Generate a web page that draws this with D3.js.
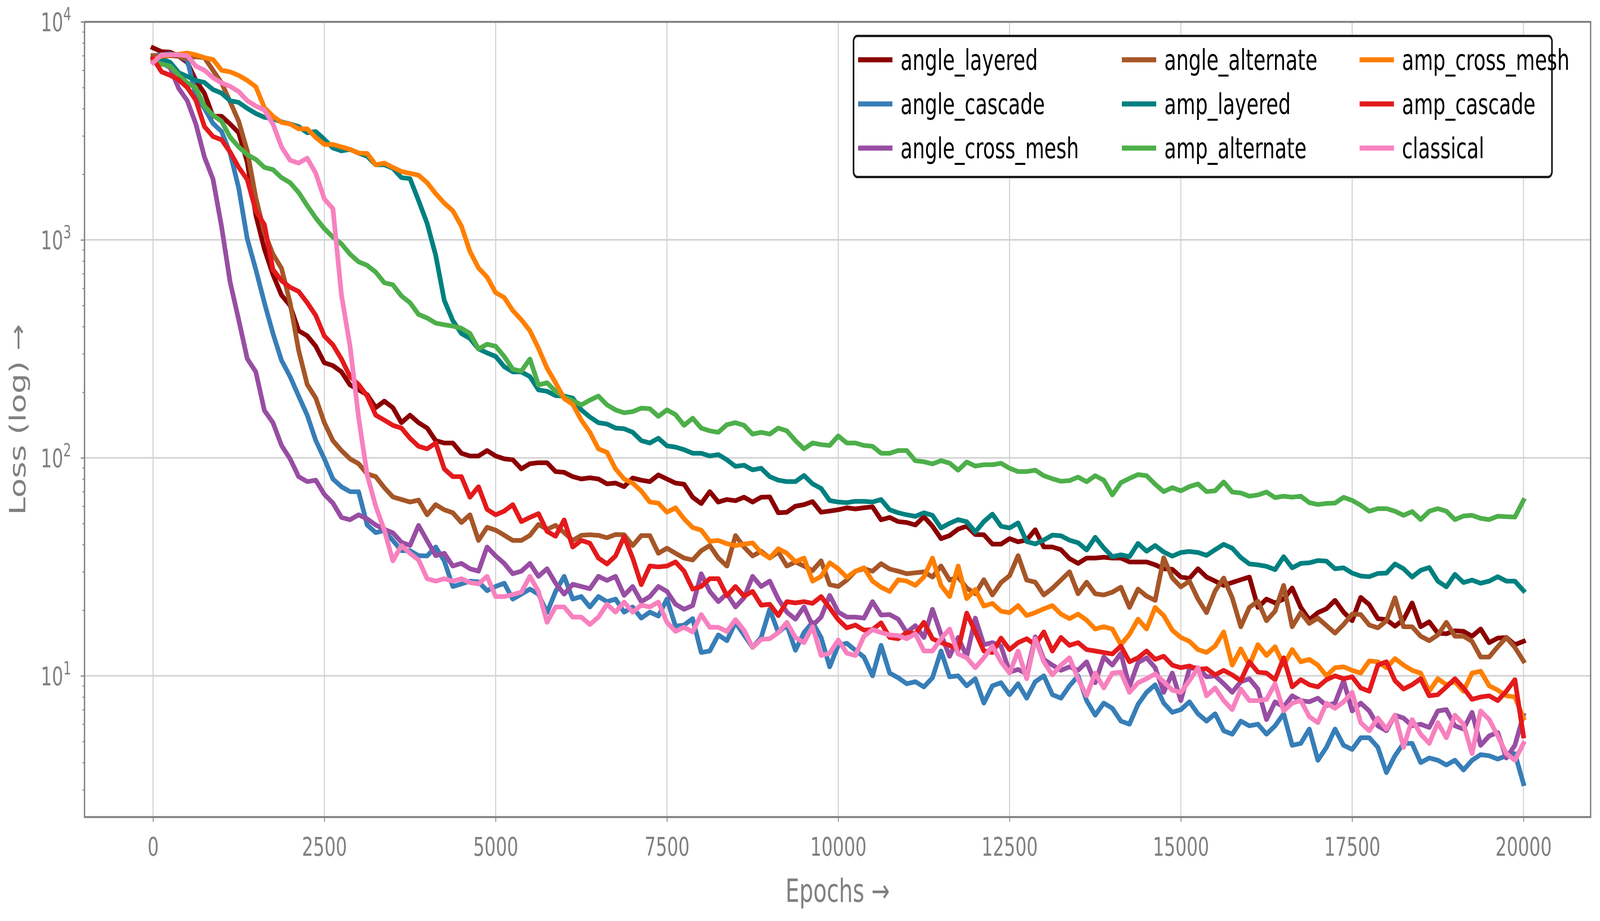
<!DOCTYPE html>
<html lang="en">
<head>
<meta charset="UTF-8">
<title>Loss curves</title>
<style>
    html, body { margin: 0; padding: 0; background: #fff; overflow: hidden; }
    svg { display: block; width: 100vw; height: 100vh; font-family: "DejaVu Sans", sans-serif; }
</style>
</head>
<body>
<div id="chart"></div>
<script src="https://d3js.org/d3.v7.min.js"></script>
<script>
const epochs = [0, 125, 250, 375, 500, 625, 750, 875, 1000, 1125, 1250, 1375, 1500, 1625, 1750, 1875,
    2000, 2125, 2250, 2375, 2500, 2625, 2750, 2875, 3000, 3125, 3250, 3375, 3500, 3625, 3750, 3875,
    4000, 4125, 4250, 4375, 4500, 4625, 4750, 4875, 5000, 5125, 5250, 5375, 5500, 5625, 5750, 5875,
    6000, 6125, 6250, 6375, 6500, 6625, 6750, 6875, 7000, 7125, 7250, 7375, 7500, 7625, 7750, 7875,
    8000, 8125, 8250, 8375, 8500, 8625, 8750, 8875, 9000, 9125, 9250, 9375, 9500, 9625, 9750, 9875,
    10000, 10125, 10250, 10375, 10500, 10625, 10750, 10875, 11000, 11125, 11250, 11375, 11500, 11625, 11750, 11875,
    12000, 12125, 12250, 12375, 12500, 12625, 12750, 12875, 13000, 13125, 13250, 13375, 13500, 13625, 13750, 13875,
    14000, 14125, 14250, 14375, 14500, 14625, 14750, 14875, 15000, 15125, 15250, 15375, 15500, 15625, 15750, 15875,
    16000, 16125, 16250, 16375, 16500, 16625, 16750, 16875, 17000, 17125, 17250, 17375, 17500, 17625, 17750, 17875,
    18000, 18125, 18250, 18375, 18500, 18625, 18750, 18875, 19000, 19125, 19250, 19375, 19500, 19625, 19750, 19875,
    20000];

const angleLayered = [7600, 7300, 7260, 6950, 6520, 5390, 4700, 3690, 3690, 3400, 3100, 2270, 1300, 908, 693, 558,
    500, 383, 363, 325, 273, 265, 248, 216, 205, 195, 170, 182, 170, 145, 157, 145,
    137, 120, 117, 117, 105, 102, 102, 108, 102, 99, 98, 89, 94, 95, 95, 86.5,
    85.8, 82, 80, 81, 80, 76, 76.6, 73.8, 80.8, 79, 77.8, 83.5, 80, 76.6, 75.7, 66,
    61.7, 70, 62.7, 64.4, 63.6, 66, 62.7, 66, 66.2, 56, 56.3, 60, 61, 63, 56.3, 57,
    57.8, 59, 58.3, 59, 59.6, 52, 53.3, 51, 50.5, 49.2, 53.7, 48.6, 42.6, 44, 47.1, 48.6,
    44.5, 44.4, 40.2, 40.2, 42.6, 41.2, 42, 46.8, 39, 39, 37.9, 34.5, 32.8, 34.7, 34.7, 35,
    34.7, 34.7, 33.3, 33.3, 33.3, 32.3, 31, 30.8, 28.4, 28, 31, 28.4, 27.2, 26, 26.8, 27.6,
    28.4, 20.6, 22.5, 21.6, 22.5, 25.3, 20.6, 18.1, 19.5, 20.3, 22.2, 19.6, 17.9, 22.9, 21.2, 18.3,
    18.1, 16.9, 18.1, 21.6, 16.8, 17.7, 15.7, 15.6, 16.1, 16, 15.2, 16.4, 14.2, 14.9, 15, 13.9,
    14.4];

const angleCascade = [7000, 7060, 7140, 6950, 6690, 4590, 4010, 3420, 3140, 2500, 1730, 1011, 731, 515, 372, 280,
    236, 192, 157, 120, 99, 80, 73.7, 70, 69.9, 49.2, 45.4, 46.4, 41.8, 37.5, 37.5, 35.6,
    35.5, 39, 33.7, 25.7, 26.4, 27.2, 27, 24.6, 25.7, 26.6, 22.5, 23.7, 25, 23.7, 19.5, 24.4,
    28.6, 22.5, 23.1, 20.7, 23.1, 21.9, 22.5, 19.6, 20.7, 18.4, 19.6, 18.8, 22.5, 16.9, 17.1, 18.3,
    12.8, 13, 15.4, 14.5, 17.6, 15.4, 13.5, 15, 20.2, 15.8, 17.1, 13.1, 15.8, 17.6, 15, 11,
    13.8, 14.1, 13.1, 12.2, 10, 13.8, 10.3, 9.8, 9.2, 9.4, 8.9, 9.8, 13, 9.9, 10, 9,
    9.7, 7.5, 9, 9.3, 8.2, 9.2, 7.9, 9.4, 10, 8.2, 7.9, 9, 10, 7.7, 6.6, 7.5,
    7.1, 6.2, 6, 7.4, 8.4, 9.1, 7.5, 6.8, 7, 7.6, 6.7, 6.2, 6.7, 5.6, 5.4, 6.2,
    5.9, 6, 5.4, 5.9, 6.7, 4.8, 4.9, 5.7, 4.1, 4.7, 5.7, 4.8, 4.6, 5.2, 5.2, 4.7,
    3.6, 4.3, 4.9, 4.9, 4, 4.2, 4.1, 3.9, 4.1, 3.7, 4.1, 4.35, 4.3, 4.15, 4.3, 4.4,
    3.2];

const angleCrossMesh = [6760, 6500, 6160, 4950, 4350, 3400, 2400, 1900, 1150, 640, 430, 285, 248, 165, 145, 114,
    99, 82, 77.8, 79, 68, 62, 53.3, 52, 54.8, 52.5, 49.2, 47, 45.3, 41, 39.6, 49,
    41.7, 35.6, 36.5, 31.9, 32.8, 31, 30.2, 39, 35.5, 32.8, 29.4, 30.2, 32.8, 28.6, 31, 26.6,
    23.7, 26.3, 25.7, 25.1, 28.6, 27.4, 28.6, 23.4, 25.7, 21.9, 23.1, 25.7, 24.4, 21.3, 20.2, 21,
    29.4, 24.4, 21.9, 23.8, 20.7, 22.8, 28.6, 25.7, 27.2, 22.5, 19.6, 18.2, 20.7, 17, 18.6, 23.4,
    19.6, 18.6, 18.6, 18.4, 21.9, 19, 19.1, 18.2, 15.8, 17, 15, 20.2, 15.5, 12.3, 15, 12.3,
    18.4, 13.9, 14.2, 13.7, 10.4, 10.7, 10.2, 15.1, 11.9, 11.2, 10.6, 11, 10.6, 11.6, 9.3, 12.2,
    11.2, 12.7, 8.9, 11.5, 12.1, 10.9, 8.4, 10.3, 7.7, 10.8, 10.9, 9.9, 10, 9.2, 8.4, 9.4,
    9.7, 8.7, 6.3, 7.6, 7.2, 8.1, 7.7, 7.6, 7.9, 7.3, 7.5, 9.5, 6.9, 7.5, 6.9, 5.9,
    5.6, 6.6, 6.4, 5.9, 6, 5.8, 6.9, 7, 5.9, 5.7, 6.8, 4.8, 5.3, 5.5, 4.2, 4.8,
    6.6];

const angleAlternate = [7000, 6950, 7000, 6950, 6800, 6920, 6850, 6000, 5250, 4300, 3500, 2560, 1560, 1080, 860, 740,
    515, 311, 217, 188, 145, 120, 108, 99, 94, 84.4, 82, 73, 66.2, 64.4, 62.7, 64,
    54.8, 61, 57.8, 56, 50.5, 54.8, 41.8, 48, 46.6, 44.2, 41.8, 41.8, 44.1, 49.5, 47, 49,
    45.4, 41.8, 44.1, 44.4, 44.1, 43, 44.5, 44.4, 39.6, 44, 44, 36.5, 38.5, 36.5, 34.7, 34,
    37.5, 39.6, 34.7, 31.9, 44, 39, 35.5, 37.3, 34.7, 37, 31.9, 33.3, 31.9, 30.4, 33.7, 26.2,
    25.7, 27.5, 30.2, 31, 30.2, 32.7, 30.9, 30.2, 29.4, 29.7, 30, 28.4, 31.9, 27.5, 28.4, 25.3,
    23.8, 27.6, 23.5, 26.8, 28.8, 35.6, 27.5, 26.9, 23.5, 25.2, 27.5, 30, 23.8, 26.9, 23.8, 23.5,
    24.2, 25.5, 20.6, 25, 23.2, 22.2, 34.8, 28.1, 25.6, 27.2, 22.5, 19.5, 24.5, 28.1, 22.8, 16.8,
    20.6, 22, 17.9, 19.8, 26, 16.8, 19.5, 17.4, 18.4, 17, 15.7, 17.2, 19.2, 19.1, 17.1, 16.6,
    17.9, 22.8, 16.8, 16.8, 15.2, 14.5, 15.4, 17.6, 15.2, 15.2, 14.4, 12.2, 12.2, 13.6, 15, 13.5,
    11.7];

const ampLayered = [6800, 6760, 6520, 5850, 5620, 5390, 5270, 4890, 4710, 4350, 4270, 4010, 3800, 3650, 3590, 3480,
    3400, 3310, 3100, 3140, 2890, 2640, 2560, 2600, 2500, 2420, 2210, 2210, 2130, 1930, 1910, 1515,
    1190, 850, 528, 426, 372, 353, 316, 303, 292, 262, 248, 248, 236, 205, 202, 193,
    192, 188, 166, 154, 145, 143, 137, 136, 131, 120, 117, 123, 113.5, 112, 109, 105,
    105, 102, 103.5, 98, 91.4, 92.5, 88.1, 89.6, 82, 79, 77.8, 77.8, 83, 76, 72.4, 63.7,
    62.7, 62.3, 63.2, 63.2, 62.7, 64.4, 57.8, 56, 54.8, 53.9, 56, 54.5, 47.7, 50.1, 52.1, 50.9,
    45.7, 51, 55.2, 48.6, 47.7, 50.3, 41.3, 40.3, 42, 44.2, 43.9, 41.9, 40.8, 37.8, 43.2, 38.6,
    35.2, 35.9, 35.2, 40.5, 37.3, 39.6, 37, 35.4, 36.8, 37.2, 36.8, 35.7, 37.9, 40.1, 38.5, 34.9,
    32.6, 32.3, 31.8, 30.7, 35.2, 31.3, 32.8, 33, 33.8, 33.6, 31, 31.3, 29.6, 28.7, 28.5, 29.5,
    29.6, 32.6, 31, 28.4, 30.5, 31.4, 27.2, 25.6, 29.2, 26.8, 27.5, 26.6, 27.2, 28.5, 27.2, 27.2,
    24.6];

const ampAlternate = [6600, 6400, 6270, 5690, 5250, 4970, 4110, 3730, 3500, 2960, 2670, 2460, 2340, 2150, 2100, 1930,
    1830, 1650, 1436, 1260, 1126, 1030, 958, 860, 793, 764, 711, 636, 622, 553, 515, 455,
    438, 415, 408, 402, 393, 372, 316, 332, 325, 292, 255, 250, 284, 216, 221, 202,
    190, 183, 175, 184, 192, 175, 166, 161, 163, 169, 168, 155, 166, 158, 141, 152,
    137, 133, 131, 142, 145, 141, 128.5, 131, 128.5, 137, 133, 120, 110, 117, 115, 114,
    126, 117, 117, 114, 113, 105, 105, 108, 108, 97, 96, 93.8, 97.1, 94.6, 87.8, 95.7,
    91.7, 93, 93, 94.4, 89.6, 86.5, 86.5, 87.8, 82.8, 80.2, 78.1, 78.6, 81.6, 77.7, 82.8, 79,
    67.6, 77, 80.5, 83.8, 82.8, 75.7, 70, 73, 70.6, 73.8, 75.9, 70, 70.6, 77.5, 69.7, 69,
    66.7, 67.6, 69.7, 65.7, 66.7, 66, 66.7, 62.3, 61.1, 61.8, 62, 65.9, 63.8, 60.6, 56.9, 58.5,
    58.5, 56.9, 54.5, 56.7, 52.1, 56.9, 58.5, 56.9, 52.1, 54.1, 54.5, 52.8, 52.1, 54, 53.7, 53.5,
    63.8];

const ampCrossMesh = [6700, 6950, 7060, 7100, 7200, 7060, 6850, 6720, 6000, 5900, 5680, 5390, 5040, 4040, 3690, 3460,
    3400, 3230, 3230, 2950, 2740, 2740, 2670, 2600, 2500, 2490, 2210, 2250, 2150, 2060, 2020, 1980,
    1830, 1630, 1475, 1360, 1157, 885, 743, 675, 573, 544, 474, 430, 383, 318, 258, 221,
    187, 176, 149, 131, 110, 106, 89, 80, 76.6, 70.5, 62.7, 62, 56.3, 59, 52.5, 47.9,
    46.6, 41.4, 41.8, 40.4, 39.6, 40.2, 40.7, 36.8, 34.7, 38.3, 36.5, 33.4, 34.7, 27.2, 28.6, 33,
    31, 28.3, 30.2, 31.3, 27.2, 25.5, 24.4, 27.6, 27.2, 26, 28.4, 34.7, 26, 23.1, 31.9, 22.6,
    24.9, 20.9, 21.5, 19.8, 19.5, 21, 18.9, 19.5, 20.3, 21, 19.2, 18.3, 19.2, 18, 16.4, 16.8,
    16.4, 13.9, 15.5, 18.2, 16.4, 20.6, 18.9, 16.2, 15, 14.4, 13.2, 12.8, 13.7, 15.9, 11.2, 13.3,
    11.2, 13.9, 12.4, 13.6, 11.2, 13.2, 11.6, 11.9, 11.2, 10, 10.9, 11, 10.6, 10.3, 11.7, 11.6,
    10.9, 12, 11.2, 10.6, 10.3, 8.5, 9.7, 9.1, 9.4, 8.5, 10.3, 10.5, 9, 8.6, 8.1, 8,
    6.4];

const ampCascade = [6800, 5900, 5690, 5420, 5000, 4370, 3310, 2980, 2880, 2530, 2150, 1890, 1360, 1175, 731, 650,
    606, 580, 515, 450, 362, 330, 284, 236, 217, 192, 157, 149, 141, 137, 123, 113,
    110, 117, 89, 82, 82, 66, 73.7, 58, 54.8, 57, 61, 51, 53.3, 55.5, 46, 43.7,
    51.9, 39, 41.8, 40.6, 34.7, 32.6, 35.5, 43.5, 34.7, 26.2, 31.9, 31.6, 31.9, 33.3, 30.2, 25,
    25.7, 27.9, 27.9, 23.3, 25.7, 23.2, 24.4, 21.1, 21.3, 18.9, 21.9, 21.6, 21.9, 21.5, 23.1, 20.5,
    18.1, 16.6, 17.1, 16.2, 16.3, 17.5, 15, 14.8, 15.8, 15.6, 17.6, 14.8, 14.2, 13.8, 13.2, 19.4,
    15.9, 13, 12.8, 14.9, 13.2, 14.2, 14.8, 13.9, 15.9, 13, 15, 13.8, 14.2, 13.2, 13, 12.8,
    12.6, 13.7, 11.6, 12.1, 13, 11.9, 12.3, 11.2, 10.9, 11.1, 10.7, 10.8, 10.1, 10.6, 10.1, 9.5,
    11.6, 10.4, 10.3, 9.6, 12.1, 8.9, 9.6, 9.1, 8.9, 9.6, 10, 9.7, 9.9, 8.8, 8.5, 11.2,
    11.6, 9.5, 8.7, 9.1, 9.7, 8.1, 8.2, 8.9, 9.7, 8.8, 7.8, 8, 8.1, 7.7, 8.5, 9.6,
    5.3];

const classical = [6500, 7060, 7060, 7060, 7000, 6270, 6000, 5540, 5250, 5060, 4790, 4350, 4110, 3940, 3400, 2670,
    2320, 2250, 2370, 2020, 1540, 1390, 558, 325, 153, 83.5, 60, 46.6, 33.7, 39.6, 36.5, 34,
    27.9, 27.2, 27.9, 27.2, 27.9, 26.8, 26.4, 28.6, 23.1, 23.1, 23.6, 24.2, 28.6, 24.4, 17.6, 20.7,
    20.7, 18.6, 18.6, 17.2, 18.6, 21.3, 19.6, 21.8, 19.6, 21.1, 20.7, 21.8, 17.6, 16, 16.7, 15.9,
    19.1, 16.7, 16.7, 16, 18.1, 16.2, 13.5, 14.7, 14.8, 15.8, 17.6, 15, 14.2, 16.8, 12.4, 12.7,
    14.6, 12.7, 12.4, 15.2, 16.3, 15.8, 15.4, 15.3, 14.8, 15.6, 13, 13, 14.8, 16.4, 12.6, 12.1,
    10.9, 12.1, 13.7, 11.6, 10.3, 13, 9.7, 14.8, 11.6, 10.1, 11.2, 12.1, 9.7, 8.1, 10.3, 8.8,
    10.3, 10.4, 8.4, 9.3, 9.7, 10.2, 9.4, 8.6, 8.4, 9.5, 10.9, 8.1, 8.8, 7.7, 7, 8.7,
    7.7, 7.7, 7.8, 9.2, 6.9, 7.5, 7.7, 6.5, 6.1, 7.5, 7.1, 7.6, 8.4, 6.1, 5.6, 6.4,
    5.7, 6.6, 4.7, 6.3, 5.4, 4.9, 6.1, 5.2, 6.6, 6, 4.4, 6.9, 6.3, 5.3, 4.4, 4.1,
    4.9];

const seriesNames = ["angle_layered", "angle_cascade", "angle_cross_mesh", "angle_alternate", "amp_layered",
    "amp_alternate", "amp_cross_mesh", "amp_cascade", "classical"];
const seriesColors = ["#8b0000", "#377eb8", "#984ea3", "#a65628", "#008080",
    "#4daf4a", "#ff7f00", "#e41a1c", "#f781bf"];
const seriesValues = [angleLayered, angleCascade, angleCrossMesh, angleAlternate, ampLayered,
    ampAlternate, ampCrossMesh, ampCascade, classical];

const xTicks = [0, 2500, 5000, 7500, 10000, 12500, 15000, 17500, 20000];
const yTicks = [10, 100, 1000, 10000];
const yTickExp = ["1", "2", "3", "4"];

const W = 5963, H = 2357;
const plotLeft = 315, plotRight = 5928, plotTop = 56, plotBottom = 2091;
const gray = "#808080";

// fixed 5963x2357 drawing box, stretched to fill the viewport
const svg = d3.select("#chart").append("svg")
    .attr("viewBox", `0 0 ${W} ${H}`)
    .attr("preserveAspectRatio", "none");

const x = d3.scaleLinear().domain([-1000, 20980]).range([plotLeft, plotRight]);
const y = d3.scaleLog().domain([2.25, 10000]).range([plotBottom, plotTop]);

// grid
svg.append("g").selectAll("line")
    .data(xTicks)
    .enter().append("line")
    .attr("x1", d => x(d)).attr("x2", d => x(d))
    .attr("y1", plotTop).attr("y2", plotBottom)
    .attr("stroke", "#d3d3d3")
    .attr("stroke-width", 4);

svg.append("g").selectAll("line")
    .data(yTicks)
    .enter().append("line")
    .attr("x1", plotLeft).attr("x2", plotRight)
    .attr("y1", d => y(d)).attr("y2", d => y(d))
    .attr("stroke", "#d3d3d3")
    .attr("stroke-width", 4);

// curves
const series = seriesNames.map((name, i) => ({
    name: name,
    color: seriesColors[i],
    points: epochs.map((e, j) => ({ epoch: e, loss: seriesValues[i][j] }))
}));

const line = d3.line()
    .x(d => x(d.epoch))
    .y(d => y(d.loss));

svg.append("g").selectAll("path")
    .data(series)
    .enter().append("path")
    .attr("d", d => line(d.points))
    .attr("fill", "none")
    .attr("stroke", d => d.color)
    .attr("stroke-width", 12)
    .attr("vector-effect", "non-scaling-stroke")
    .attr("stroke-linejoin", "round")
    .attr("stroke-linecap", "square");

// x axis
const xAxis = svg.append("g")
    .attr("transform", `translate(0,${plotBottom})`)
    .call(d3.axisBottom(x).tickValues(xTicks).tickFormat(d3.format("d")).tickSize(12).tickPadding(40));
xAxis.select(".domain").remove();
xAxis.selectAll(".tick line").attr("stroke", gray).attr("stroke-width", 3);
xAxis.selectAll(".tick text")
    .attr("fill", gray)
    .attr("font-size", 66)
    .attr("font-family", "DejaVu Sans");

// y axis, major + minor ticks
const yMinor = [];
[1, 10, 100, 1000].forEach(p => {
    for (let m = 2; m <= 9; m++) {
        if (m * p >= 2.25 && m * p < 10000) yMinor.push(m * p);
    }
});

const yAxisMinor = svg.append("g")
    .attr("transform", `translate(${plotLeft},0)`)
    .call(d3.axisLeft(y).tickValues(yMinor).tickFormat("").tickSize(8));
yAxisMinor.select(".domain").remove();
yAxisMinor.selectAll(".tick line").attr("stroke", gray).attr("stroke-width", 2.5);

const yAxis = svg.append("g")
    .attr("transform", `translate(${plotLeft},0)`)
    .call(d3.axisLeft(y).tickValues(yTicks).tickFormat("").tickSize(14));
yAxis.select(".domain").remove();
yAxis.selectAll(".tick line").attr("stroke", gray).attr("stroke-width", 3);

const yLabels = svg.append("g").selectAll("text")
    .data(yTicks)
    .enter().append("text")
    .attr("x", 265)
    .attr("y", d => y(d) + 24)
    .attr("text-anchor", "end")
    .attr("fill", gray)
    .attr("font-size", 66);
yLabels.append("tspan").text("10");
yLabels.append("tspan")
    .attr("dy", -28)
    .attr("font-size", 46)
    .text((d, i) => yTickExp[i]);

// frame
svg.append("rect")
    .attr("x", plotLeft).attr("y", plotTop)
    .attr("width", plotRight - plotLeft).attr("height", plotBottom - plotTop)
    .attr("fill", "none")
    .attr("stroke", gray)
    .attr("stroke-width", 5);

// axis titles
svg.append("text")
    .attr("x", (plotLeft + plotRight) / 2)
    .attr("y", 2308)
    .attr("text-anchor", "middle")
    .attr("fill", gray)
    .attr("font-size", 82)
    .text("Epochs \u2192");

svg.append("text")
    .attr("transform", `translate(94,${(plotTop + plotBottom) / 2}) rotate(-90)`)
    .attr("text-anchor", "middle")
    .attr("fill", gray)
    .attr("font-size", 82)
    .text("Loss (log) \u2192");

// legend
const legend = svg.append("g");
legend.append("rect")
    .attr("x", 3181).attr("y", 92)
    .attr("width", 5784 - 3181).attr("height", 453 - 92)
    .attr("rx", 14)
    .attr("fill", "#fff")
    .attr("stroke", "#1a1a1a")
    .attr("stroke-width", 6);

const colX = [3198, 4181, 5067];
const rowY = [153, 266, 379];

const items = legend.selectAll("g.item")
    .data(series)
    .enter().append("g")
    .attr("class", "item")
    .attr("transform", (d, i) => `translate(${colX[Math.floor(i / 3)]},${rowY[i % 3]})`);

items.append("line")
    .attr("x1", 0).attr("x2", 128)
    .attr("y1", 0).attr("y2", 0)
    .attr("stroke", d => d.color)
    .attr("stroke-width", 13);

items.append("text")
    .attr("x", 158)
    .attr("y", 26)
    .attr("font-size", 73)
    .attr("fill", "#000")
    .text(d => d.name);
</script>
</body>
</html>
